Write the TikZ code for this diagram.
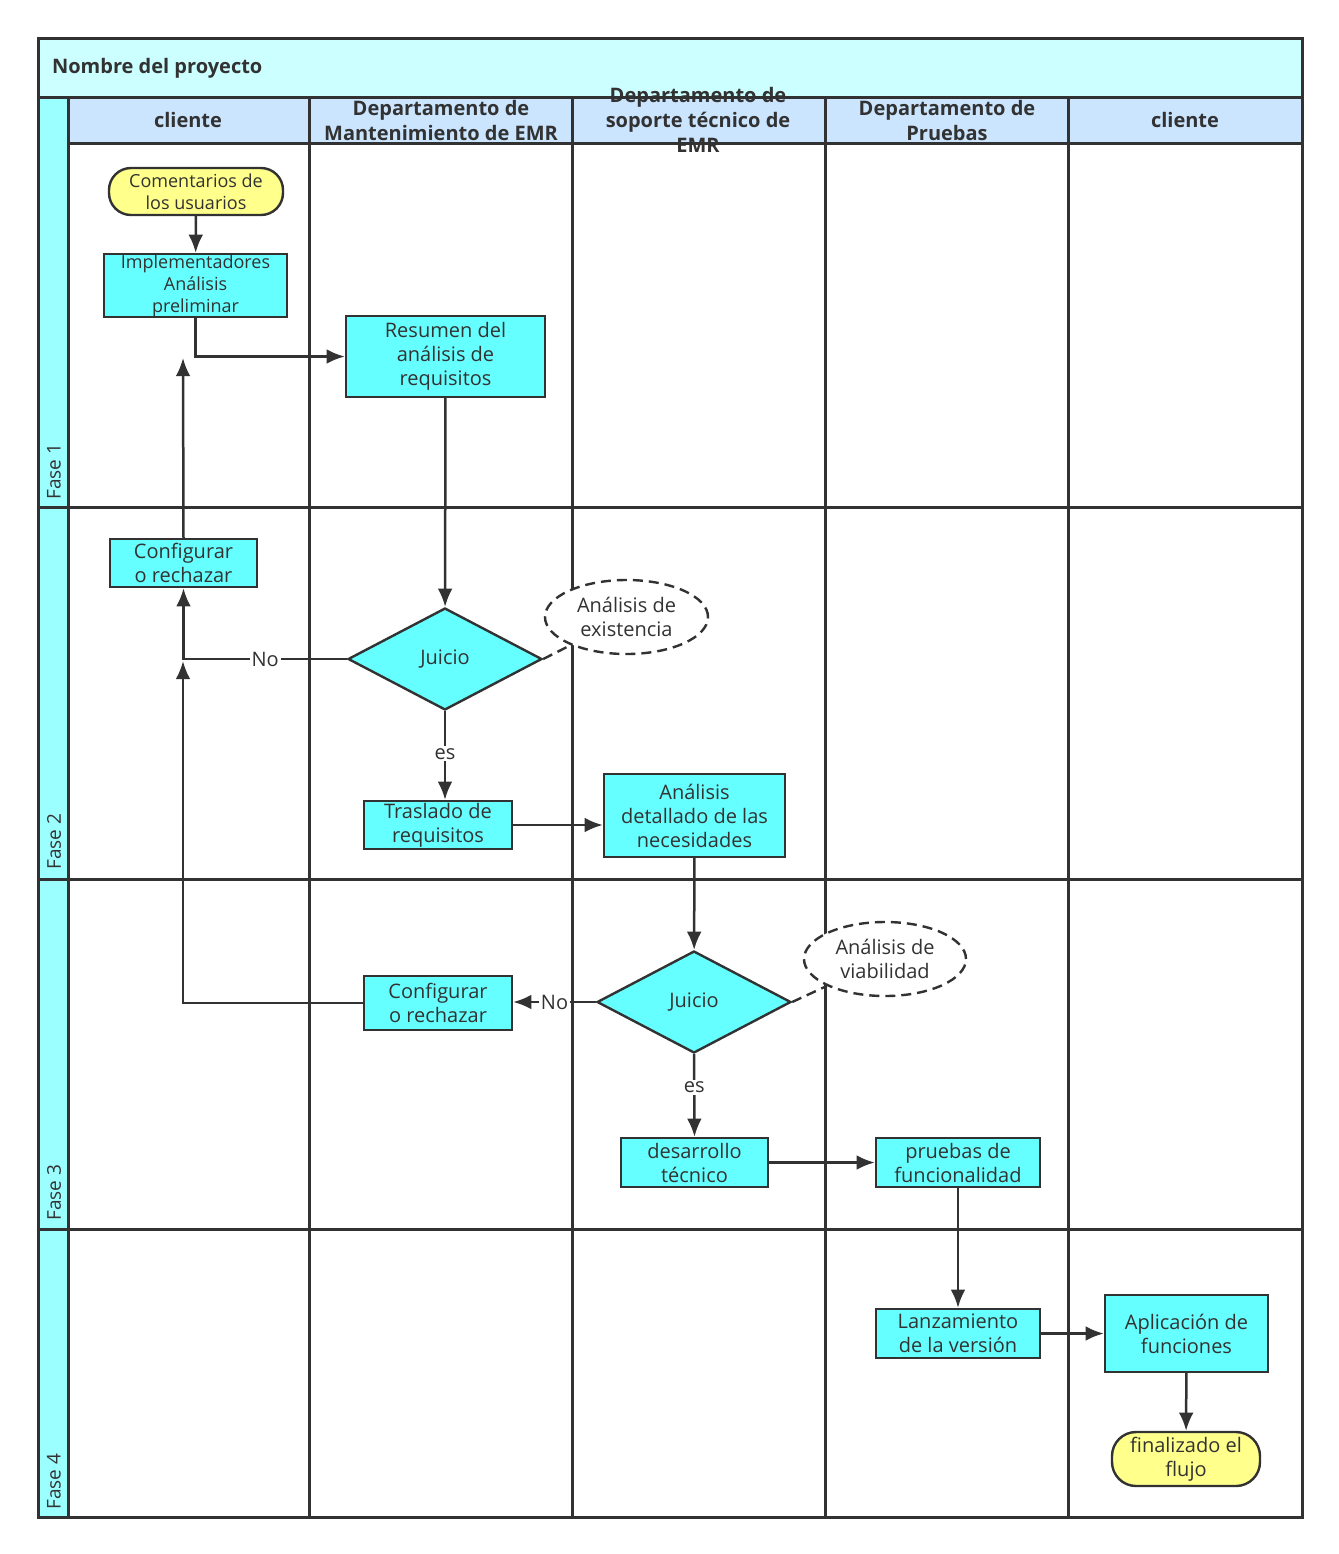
\documentclass[tikz,border=0pt]{standalone}
\usepackage{fontspec}
\setmainfont{Open Sans}
\usetikzlibrary{arrows.meta,positioning,shapes.geometric}
\definecolor{titlecyan}{HTML}{CCFFFF}
\definecolor{headblue}{HTML}{CCE5FF}
\definecolor{phasecyan}{HTML}{9CFFFF}
\definecolor{boxcyan}{HTML}{66FFFF}
\definecolor{termyellow}{HTML}{FFFF8C}
\definecolor{inkgray}{HTML}{323232}
\begin{document}
\begin{tikzpicture}[
  x=0.5pt,y=-0.5pt,
  every node/.style={font=\fontsize{10}{12}\selectfont,text=inkgray},
  box/.style={draw=inkgray,line width=1.2pt,fill=boxcyan,align=center,inner sep=0pt},
  term/.style={box,fill=termyellow,rounded corners=11pt},
  decision/.style={box,diamond,minimum width=97pt,minimum height=51pt},
  note/.style={draw=inkgray,dashed,dash pattern=on 5pt off 3pt,line width=1.2pt,ellipse,align=center,fill=white,inner sep=0pt},
  arrow/.style={-{Latex[length=3.2mm,width=2.6mm]},draw=inkgray,line width=1.25pt},
  lane/.style={draw=inkgray,line width=1.5pt},
  head/.style={font=\fontsize{10}{12.5}\selectfont\bfseries,align=center},
  phase/.style={rotate=90,anchor=west,inner sep=1pt,font=\fontsize{9.5}{11}\selectfont},
  lbl/.style={fill=white,inner sep=1pt}
]
\useasboundingbox (0,0) rectangle (1339,1554);
% swimlane frame
\fill[titlecyan] (38,38) rectangle (1302,97);
\fill[headblue] (68,97) rectangle (1302,143);
\fill[phasecyan] (38,97) rectangle (68,1517);
\draw[lane] (38,38) rectangle (1302,1517);
\draw[lane] (38,97) -- (1302,97);
\draw[lane] (68,143) -- (1302,143);
\foreach \x in {68,309,572,825,1068} \draw[lane] (\x,97) -- (\x,1517);
\foreach \y in {507,879,1229} \draw[lane] (38,\y) -- (1302,\y);
% titles
\node[head,anchor=west] (project) at (45,68) {Nombre del proyecto};
\node[head] (lane1) at (188,120) {cliente};
\node[head] (lane2) at (441,120) {Departamento de\\Mantenimiento de EMR};
\node[head] (lane3) at (698,120) {Departamento de\\soporte técnico de\\EMR};
\node[head] (lane4) at (947,120) {Departamento de\\Pruebas};
\node[head] (lane5) at (1185,120) {cliente};
\node[phase] (phase1) at (54,502) {Fase 1};
\node[phase] (phase2) at (54,872) {Fase 2};
\node[phase] (phase3) at (54,1223) {Fase 3};
\node[phase] (phase4) at (54,1512) {Fase 4};
% process steps
\node[term,minimum width=87pt,minimum height=23.5pt,font=\fontsize{9}{11}\selectfont] (feedback) at (196,191.5) {Comentarios de\\los usuarios};
\node[box,minimum width=91.5pt,minimum height=31.5pt,font=\fontsize{9}{11}\selectfont] (prelim) at (195.5,285.5) {Implementadores\\Análisis\\preliminar};
\node[box,minimum width=99.5pt,minimum height=40.5pt] (summary) at (445.5,356.5) {Resumen del\\análisis de\\requisitos};
\node[box,minimum width=73.5pt,minimum height=24pt] (reject1) at (183.5,563) {Configurar\\o rechazar};
\node[decision] (judge1) at (445,659) {Juicio};
\node[note,minimum width=81.5pt,minimum height=37pt] (exist) at (626.5,617) {Análisis de\\existencia};
\node[box,minimum width=74pt,minimum height=24pt] (transfer) at (438,825) {Traslado de\\requisitos};
\node[box,minimum width=90.5pt,minimum height=41.5pt] (detail) at (694.5,815.5) {Análisis\\detallado de las\\necesidades};
\node[decision] (judge2) at (694,1002) {Juicio};
\node[note,minimum width=81pt,minimum height=37pt] (viable) at (885,959) {Análisis de\\viabilidad};
\node[box,minimum width=74pt,minimum height=27pt] (reject2) at (438,1003) {Configurar\\o rechazar};
\node[box,minimum width=73.5pt,minimum height=24.5pt] (develop) at (694.5,1162.5) {desarrollo\\técnico};
\node[box,minimum width=82pt,minimum height=24.5pt] (testing) at (958,1162.5) {pruebas de\\funcionalidad};
\node[box,minimum width=82pt,minimum height=24.5pt] (release) at (958,1333.5) {Lanzamiento\\de la versión};
\node[box,minimum width=81.5pt,minimum height=38.5pt] (apply) at (1186.5,1333.5) {Aplicación de\\funciones};
\node[term,minimum width=74pt,minimum height=27pt,rounded corners=12pt] (finish) at (1186,1459) {finalizado el\\flujo};
\coordinate (backtop) at (183,358);
\coordinate (nojoin) at (183,661);
% connectors
\draw[arrow] (feedback) -- (prelim);
\draw[arrow] (prelim.south) |- (summary.west);
\draw[arrow] (summary) -- (judge1);
\draw[arrow] (judge1.west) -| node[lbl,pos=0.25] {No} (reject1.south);
\draw[arrow] (reject1.north) -- (backtop);
\draw[arrow] (reject2.west) -| (nojoin);
\draw[arrow] (judge1.south) -- node[lbl,pos=0.48] {es} (judge1.south |- transfer.north);
\draw[arrow] (transfer.east) -- (transfer.east -| detail.west);
\draw[arrow] (detail) -- (judge2);
\draw[arrow] (judge2.west) -- node[lbl] {No} (judge2.west -| reject2.east);
\draw[arrow] (judge2.south) -- node[lbl,pos=0.4] {es} (develop.north);
\draw[arrow] (develop) -- (testing);
\draw[arrow] (testing) -- (release);
\draw[arrow] (release) -- (apply);
\draw[arrow] (apply) -- (finish);
\draw[draw=inkgray,line width=1.2pt,dash pattern=on 5pt off 3pt] (judge1.east) -- (exist);
\draw[draw=inkgray,line width=1.2pt,dash pattern=on 5pt off 3pt] (judge2.east) -- (viable);
\end{tikzpicture}
\end{document}
